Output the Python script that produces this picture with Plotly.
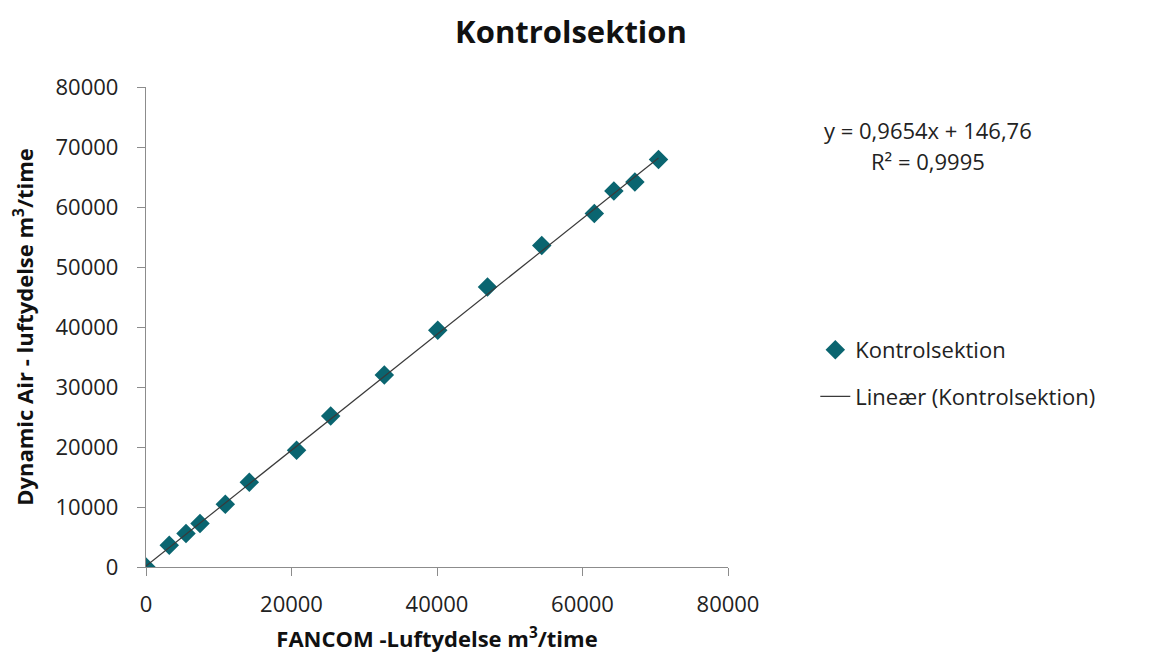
import plotly.graph_objects as go

# Data
fancom_x = [0, 3200, 5500, 7420, 10900, 14200, 20700, 25390, 32760, 40100,
            46940, 54400, 61620, 64310, 67200, 70450]
dynamic_y = [0, 3620, 5570, 7230, 10450, 14120, 19450, 25170, 32000, 39450,
             46670, 53570, 58900, 62670, 64170, 67900]

trend_slope = 0.9654
trend_intercept = 146.76
equation_text = "y = 0,9654x + 146,76"
r2_text = "R² = 0,9995"

x_ticks = [0, 20000, 40000, 60000, 80000]
y_ticks = [0, 10000, 20000, 30000, 40000, 50000, 60000, 70000, 80000]

series_name = "Kontrolsektion"
trend_name = "Lineær (Kontrolsektion)"

FONT = "Open Sans"
TEAL = "#0A6570"

trend_x = [min(fancom_x), max(fancom_x)]
trend_y = [trend_slope * v + trend_intercept for v in trend_x]

# page has an 8px body margin; figure drawn at (8, 8)
W, H = 1145, 648
L, T = 138, 79
PW, PH = 582, 480

fig = go.Figure()
fig.add_trace(go.Scatter(
    x=fancom_x, y=dynamic_y, mode="markers", name=series_name,
    marker=dict(symbol="diamond", size=15, color=TEAL,
                line=dict(width=0)),
    legendgroup="a",
))
fig.add_trace(go.Scatter(
    x=trend_x, y=trend_y, mode="lines", name=trend_name,
    line=dict(color="#3a3a3a", width=1.2), legendgroup="b",
))

fig.update_layout(
    width=W, height=H,
    margin=dict(l=L, r=W - L - PW, t=T, b=H - T - PH, autoexpand=False),
    paper_bgcolor="white", plot_bgcolor="white",
    font=dict(family=FONT, size=20, color="#222222"),
    title=dict(text="<b>Kontrolsektion</b>", x=563 / W, xanchor="center",
               y=1 - 24 / H, yanchor="middle",
               font=dict(family=FONT, size=31, color="#111111")),
    showlegend=True,
    legend=dict(x=1.150, xanchor="left", y=0.403, yanchor="middle",
                font=dict(family=FONT, size=22, color="#222222"),
                tracegroupgap=15, bgcolor="rgba(0,0,0,0)",
                traceorder="grouped"),
    xaxis=dict(
        range=[0, 80000], tickvals=x_ticks, ticktext=[str(v) for v in x_ticks],
        showgrid=False, zeroline=False, showline=True, linecolor="#8c8c8c",
        linewidth=1.3, ticks="outside", ticklen=8, tickcolor="#8c8c8c",
        tickfont=dict(family=FONT, size=22, color="#222222"),
        ticklabelstandoff=9, automargin=False,
        title=dict(text="<b>FANCOM -Luftydelse m<sup>3</sup>/time</b>",
                   font=dict(family=FONT, size=22, color="#111111"),
                   standoff=15),
    ),
    yaxis=dict(
        range=[0, 80000], tickvals=y_ticks, ticktext=[str(v) for v in y_ticks],
        showgrid=False, zeroline=False, showline=True, linecolor="#8c8c8c",
        linewidth=1.3, ticks="outside", ticklen=8, tickcolor="#8c8c8c",
        tickfont=dict(family=FONT, size=22, color="#222222"),
        ticklabelstandoff=14, automargin=False,
        title=dict(text="<b>Dynamic Air - luftydelse m<sup>3</sup>/time</b>",
                   font=dict(family=FONT, size=22, color="#111111"),
                   standoff=22),
    ),
)

fig.add_annotation(text=equation_text, xref="paper", yref="paper",
                   x=(928 - 146) / PW, y=(567 - 130) / PH,
                   showarrow=False, xanchor="center", yanchor="middle",
                   font=dict(family=FONT, size=22, color="#222222"))
fig.add_annotation(text=r2_text, xref="paper", yref="paper",
                   x=(928 - 146) / PW, y=(567 - 161) / PH,
                   showarrow=False, xanchor="center", yanchor="middle",
                   font=dict(family=FONT, size=22, color="#222222"))

fig.write_html("out.html")
